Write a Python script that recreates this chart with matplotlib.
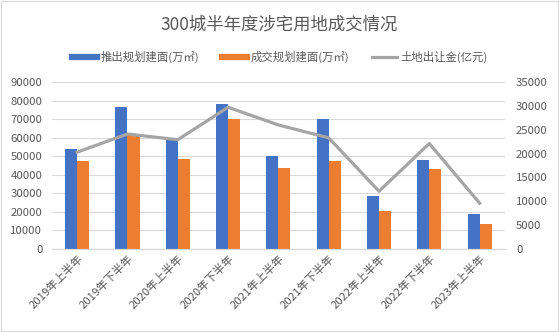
import numpy as np
import matplotlib
matplotlib.use("Agg")
import matplotlib.pyplot as plt
from matplotlib.lines import Line2D
from matplotlib.patches import Rectangle

plt.rcParams['font.family'] = ['Noto Sans CJK SC', 'DejaVu Sans']

periods = ['2019年上半年', '2019年下半年', '2020年上半年', '2020年下半年', '2021年上半年',
           '2021年下半年', '2022年上半年', '2022年下半年', '2023年上半年']
supply_area = [54000, 76700, 59000, 77900, 49900, 70200, 28700, 48100, 19000]
deal_area = [47200, 61200, 48500, 69800, 43400, 47200, 20300, 42900, 13600]
land_revenue = [20300, 24100, 22900, 29700, 26000, 23300, 12100, 22100, 9600]

blue = '#4472C4'
orange = '#ED7D31'
grey = '#A5A5A5'
txt = '#595959'

fig = plt.figure(figsize=(5.59, 3.32), dpi=100)
fig.patches.append(Rectangle((0.002, 0.003), 0.996, 0.994, transform=fig.transFigure,
                             fill=False, edgecolor='#D9D9D9', lw=0.8))
ax = fig.add_axes([0.093, 0.25, 0.81, 0.503])
ax2 = ax.twinx()

x = np.arange(len(periods))
w = 0.24
ax.bar(x - w / 2, supply_area, w, color=blue, zorder=2)
ax.bar(x + w / 2, deal_area, w, color=orange, zorder=2)
ax2.plot(x, land_revenue, color=grey, lw=2.3, zorder=3)

ax.set_xlim(-0.5, len(periods) - 0.5)
ax.set_ylim(0, 90000)
ax.set_yticks(np.arange(0, 90001, 10000))
ax2.set_ylim(0, 35000)
ax2.set_yticks(np.arange(0, 35001, 5000))

ax.grid(axis='y', color='#D9D9D9', lw=0.8, zorder=0)
ax.set_axisbelow(True)
for a in (ax, ax2):
    for s in ('top', 'left', 'right'):
        a.spines[s].set_visible(False)
    a.spines['bottom'].set_color('#D9D9D9')
    a.tick_params(length=0, labelsize=8.2, labelcolor=txt)
ax.tick_params(axis='y', pad=7)
ax2.tick_params(axis='y', pad=8)

ax.set_xticks(x)
ax.set_xticklabels(periods, rotation=45, ha='right', rotation_mode='anchor')
ax.tick_params(axis='x', pad=3)

fig.text(0.5, 0.925, '300城半年度涉宅用地成交情况', ha='center', va='center',
         fontsize=12.5, color=txt)

handles = [Line2D([], [], color=blue, lw=4.5),
           Line2D([], [], color=orange, lw=4.5),
           Line2D([], [], color=grey, lw=2.3)]
labels = ['推出规划建面(万㎡)', '成交规划建面(万㎡)', '土地出让金(亿元)']
fig.legend(handles, labels, loc='center', bbox_to_anchor=(0.5, 0.828), ncol=3,
           frameon=False, fontsize=8.2, labelcolor=txt, handlelength=2.2,
           handletextpad=0.3, columnspacing=2.0)

fig.savefig('out.png', dpi=100)
